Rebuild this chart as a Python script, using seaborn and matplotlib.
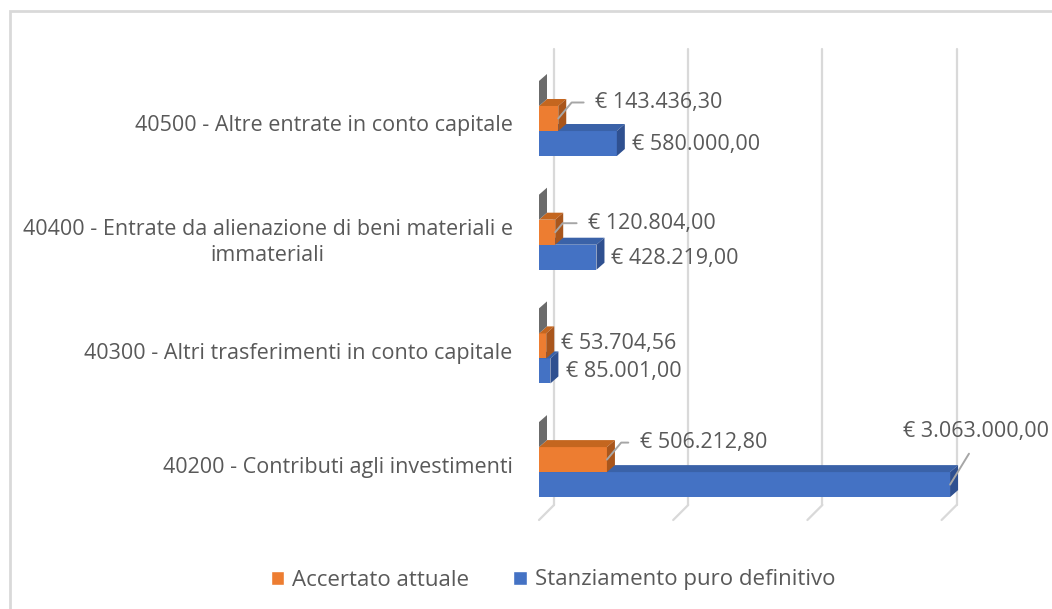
"""Entrate in conto capitale: accertato vs stanziamento (barre 3D in stile Excel)"""
import matplotlib
matplotlib.use("Agg")
import matplotlib.pyplot as plt
import matplotlib.transforms as mtransforms
from matplotlib.patches import Polygon, Rectangle, Patch
import seaborn as sns
import pandas as pd


CATEGORIES = ["40500 - Altre entrate in conto capitale",
              "40400 - Entrate da alienazione di beni materiali e\nimmateriali",
              "40300 - Altri trasferimenti in conto capitale",
              "40200 - Contributi agli investimenti"]
SERIES = ["Altro", "Accertato attuale", "Stanziamento puro definitivo"]
ALTRO = [0, 0, 0, 0]
ACCERTATO = [143436.30, 120804.00, 53704.56, 506212.80]
STANZIAMENTO = [580000.00, 428219.00, 85001.00, 3063000.00]
GRID_TICKS = [0, 1e6, 2e6, 3e6]

# front, top, side colours and drawing order for each series
FACE = {"Altro": ("#7f7f7f", "#8c8c8c", "#6b6b6b", 5),
        "Accertato attuale": ("#ED7D31", "#C4661F", "#A9561C", 4),
        "Stanziamento puro definitivo": ("#4472C4", "#3A62A8", "#2F5090", 3)}

# label offsets in pixels from the bar end, and whether a leader line is drawn
LABEL_POS = {"Accertato attuale": [(37, 16, True), (33, 9, True), (15, 2, False), (33, 17, True)],
             "Stanziamento puro definitivo": [(15, -1, False), (15, -1, False), (16, -1, False), (-47, 53, True)]}

TEXT = "#595959"
GRID = "#d9d9d9"
FONT_SIZE = 15.5
W, H = 1052, 609
PX_PER_UNIT_X = 134.2 / 1e6     # pixels per euro
PX_PER_UNIT_Y = 113.7           # pixels per category


def euro(v):
    s = f"{v:,.2f}".replace(",", "X").replace(".", ",").replace("X", ".")
    return f"€ {s}"


def main():
    sns.set_theme(style="white")
    plt.rcParams["font.family"] = ["Open Sans", "DejaVu Sans"]

    df = pd.DataFrame({
        "voce": CATEGORIES * 3,
        "serie": [s for s in SERIES for _ in CATEGORIES],
        "valore": ALTRO + ACCERTATO + STANZIAMENTO,
    })

    fig = plt.figure(figsize=(W / 100, H / 100), dpi=100)
    left, right, top, bottom = 539, 1042, 49, 520
    ax = fig.add_axes([left / W, 1 - bottom / H, (right - left) / W, (bottom - top) / H])

    sns.barplot(data=df, x="valore", y="voce", hue="serie", hue_order=SERIES,
                order=CATEGORIES, palette={k: v[0] for k, v in FACE.items()},
                width=0.66, saturation=1, orient="h", legend=False, ax=ax,
                linewidth=0, errorbar=None)

    xmax = (right - left) / PX_PER_UNIT_X
    ymin = -(118.5 - top) / PX_PER_UNIT_Y
    ymax = ymin + (bottom - top) / PX_PER_UNIT_Y
    ax.set_xlim(0, xmax)
    ax.set_ylim(ymax, ymin)

    # back wall gridlines + slanted floor ticks
    gdx = 15 / PX_PER_UNIT_X
    gdy = 15 / PX_PER_UNIT_Y
    for g in GRID_TICKS:
        ax.plot([g + gdx, g + gdx], [ymin, ymax - gdy], color=GRID, lw=1.6, zorder=1, clip_on=False)
        ax.plot([g, g + gdx], [ymax, ymax - gdy], color=GRID, lw=1.6, zorder=1, clip_on=False)

    # fake 3D depth on every bar
    ddx = 8 / PX_PER_UNIT_X
    ddy = 7 / PX_PER_UNIT_Y
    color_to_series = {matplotlib.colors.to_hex(v[0]).lower(): k for k, v in FACE.items()}
    centers = {}
    for p in list(ax.patches):
        key = color_to_series[matplotlib.colors.to_hex(p.get_facecolor()).lower()]
        front, topc, side, z = FACE[key]
        x0, y0, w, h = p.get_x(), p.get_y(), p.get_width(), p.get_height()
        yt, yb = min(y0, y0 + h), max(y0, y0 + h)
        x1 = x0 + w
        p.set_zorder(z)
        ax.add_patch(Polygon([(x0, yt), (x1, yt), (x1 + ddx, yt - ddy), (x0 + ddx, yt - ddy)],
                             closed=True, facecolor=topc, edgecolor="none", zorder=z))
        ax.add_patch(Polygon([(x1, yt), (x1, yb), (x1 + ddx, yb - ddy), (x1 + ddx, yt - ddy)],
                             closed=True, facecolor=side, edgecolor="none", zorder=z))
        centers.setdefault(key, []).append(((yt + yb) / 2, x1))

    # data labels
    for key, values in (("Accertato attuale", ACCERTATO), ("Stanziamento puro definitivo", STANZIAMENTO)):
        rows = sorted(centers[key])
        for i, v in enumerate(values):
            yc = rows[i][0]
            dx, dy, leader = LABEL_POS[key][i]
            props = None
            if leader:
                if dx < 0:
                    props = dict(arrowstyle="-", color="#a6a6a6", lw=1.4, relpos=(0.5, 0),
                                 shrinkA=7, shrinkB=0)
                else:
                    props = dict(arrowstyle="-", color="#a6a6a6", lw=1.4, relpos=(0, 0.5),
                                 shrinkA=6, shrinkB=0,
                                 connectionstyle="angle,angleA=0,angleB=50,rad=0")
            ax.annotate(euro(v), xy=(v, yc), xytext=(dx, dy), textcoords="offset pixels",
                        ha="left", va="center", fontsize=FONT_SIZE, color=TEXT,
                        arrowprops=props, zorder=10, annotation_clip=False)

    ax.set_xlabel("")
    ax.set_ylabel("")
    ax.set_xticks([])
    ax.set_yticks(range(len(CATEGORIES)))
    ax.set_yticklabels(CATEGORIES, ha="right", multialignment="center", linespacing=1.35)
    ax.tick_params(axis="y", length=0, pad=19, labelsize=FONT_SIZE, labelcolor=TEXT)
    # Excel centres the category names a touch lower than the bar group
    shift = mtransforms.ScaledTranslation(0, -5 / 100, fig.dpi_scale_trans)
    for lab in ax.get_yticklabels():
        lab.set_transform(lab.get_transform() + shift)
    for s in ax.spines.values():
        s.set_visible(False)
    ax.patch.set_alpha(0)

    handles = [Patch(facecolor=FACE[s][0]) for s in SERIES[1:]]
    fig.legend(handles, SERIES[1:], loc="center", bbox_to_anchor=(553 / W, 1 - 580 / H),
               ncol=2, frameon=False, fontsize=16, labelcolor=TEXT,
               handlelength=0.6, handleheight=0.6, handletextpad=0.35, columnspacing=2.0)

    # chart area frame
    fig.patches.append(Rectangle((10 / W, -0.1), 1.2, 1 - 11 / H + 0.1, transform=fig.transFigure,
                                 fill=False, edgecolor=GRID, lw=2))

    fig.savefig("out.png", dpi=100)


if __name__ == "__main__":
    main()
